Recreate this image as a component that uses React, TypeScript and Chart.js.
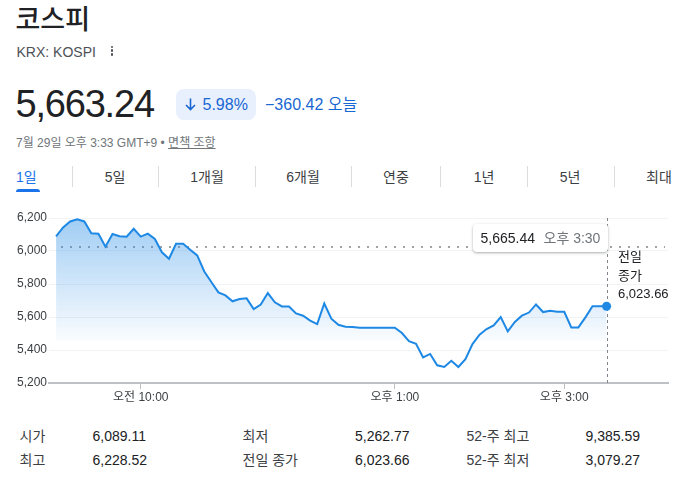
import React, { useEffect, useRef } from "react";
import { Chart, registerables } from "chart.js";

Chart.register(...registerables);

// ---- data ----
const times = [
  "09:00", "09:05", "09:10", "09:15", "09:20", "09:25", "09:30", "09:35", "09:40", "09:45", "09:50", "09:55",
  "10:00", "10:05", "10:10", "10:15", "10:20", "10:25", "10:30", "10:35", "10:40", "10:45", "10:50", "10:55",
  "11:00", "11:05", "11:10", "11:15", "11:20", "11:25", "11:30", "11:35", "11:40", "11:45", "11:50", "11:55",
  "12:00", "12:05", "12:10", "12:15", "12:20", "12:25", "12:30", "12:35", "12:40", "12:45", "12:50", "12:55",
  "13:00", "13:05", "13:10", "13:15", "13:20", "13:25", "13:30", "13:35", "13:40", "13:45", "13:50", "13:55",
  "14:00", "14:05", "14:10", "14:15", "14:20", "14:25", "14:30", "14:35", "14:40", "14:45", "14:50", "14:55",
  "15:00", "15:05", "15:10", "15:15", "15:20", "15:25", "15:30",
];
const values = [
  6088, 6143, 6179, 6192, 6179, 6107, 6105, 6026, 6103, 6089, 6087, 6135,
  6087, 6105, 6073, 5992, 5953, 6044, 6044, 6008, 5973, 5876, 5812, 5749,
  5731, 5695, 5709, 5713, 5648, 5675, 5745, 5689, 5664, 5663, 5622, 5608,
  5578, 5557, 5682, 5590, 5553, 5541, 5539, 5535, 5535, 5535, 5535, 5535,
  5535, 5503, 5454, 5438, 5355, 5376, 5307, 5297, 5335, 5297, 5345, 5436,
  5493, 5527, 5549, 5600, 5513, 5570, 5608, 5627, 5676, 5630, 5638, 5632,
  5632, 5537, 5537, 5598, 5665, 5665, 5665,
];
const prevClose = 6023.66;
const yTicks = [5200, 5400, 5600, 5800, 6000, 6200];
const xTickTimes = ["10:00", "13:00", "15:00"];
const xTickLabels = ["오전 10:00", "오후 1:00", "오후 3:00"];
const tabs = ["1일", "5일", "1개월", "6개월", "연중", "1년", "5년", "최대"];
const statLabelsA = ["시가", "최고"];
const statValuesA = ["6,089.11", "6,228.52"];
const statLabelsB = ["최저", "전일 종가"];
const statValuesB = ["5,262.77", "6,023.66"];
const statLabelsC = ["52-주 최고", "52-주 최저"];
const statValuesC = ["9,385.59", "3,079.27"];
const title = "코스피";
const ticker = "KRX: KOSPI";
const price = "5,663.24";
const changePct = "5.98%";
const changeAbs = "−360.42";
const tooltipValue = "5,665.44";
const tooltipTime = "오후 3:30";
const prevCloseLabel = ["전일", "종가", "6,023.66"];

// ---- layout / style ----
const FONT = '"Liberation Sans", Arial, "Noto Sans CJK KR", sans-serif';
const LINE = "#1e88e5";
const BLUE_TEXT = "#1967d2";
const tabCenters = [27.5, 115, 207, 303, 396, 484, 570, 659];
const tabSeps = [72, 158, 255, 351, 440, 527, 614];
const colX = [[19.5, 92.5], [242.5, 355], [466.5, 585.5]];
const rowY = [436, 460];
const prevLabelY = [256.5, 276, 293.5];

const toMin = (t: string) => {
  const [h, m] = t.split(":").map(Number);
  return (h - 9) * 60 + m;
};

function Txt(props: { x: number; cy: number; size: number; color?: string; h?: number; align?: "left" | "center"; style?: any; children: any }) {
  const h = props.h ?? Math.round(props.size * 1.4);
  const base: any = {
    position: "absolute",
    top: props.cy - h / 2,
    height: h,
    lineHeight: h + "px",
    fontSize: props.size,
    color: props.color ?? "#202124",
    whiteSpace: "nowrap",
    fontFamily: FONT,
  };
  if (props.align === "center") {
    base.left = props.x - 100;
    base.width = 200;
    base.textAlign = "center";
  } else {
    base.left = props.x;
  }
  return <div style={{ ...base, ...(props.style || {}) }}>{props.children}</div>;
}

export default function App() {
  const canvasRef = useRef<HTMLCanvasElement | null>(null);

  useEffect(() => {
    const canvas = canvasRef.current;
    if (!canvas) return;
    const overlay = {
      id: "overlay",
      beforeDatasetsDraw(chart: any) {
        const { ctx, chartArea, scales } = chart;
        const y = scales.y.getPixelForValue(prevClose);
        ctx.save();
        ctx.strokeStyle = "#a0a4a8";
        ctx.lineWidth = 2;
        ctx.setLineDash([2, 7]);
        ctx.beginPath();
        ctx.moveTo(chartArea.left + 12, y);
        ctx.lineTo(chartArea.right - 3, y);
        ctx.stroke();
        const lastX = scales.x.getPixelForValue(toMin(times[times.length - 1]));
        ctx.strokeStyle = "#80868b";
        ctx.lineWidth = 1;
        ctx.setLineDash([3, 3]);
        ctx.beginPath();
        ctx.moveTo(Math.round(lastX) + 0.5, chartArea.top);
        ctx.lineTo(Math.round(lastX) + 0.5, chartArea.bottom);
        ctx.stroke();
        ctx.restore();
      },
    };
    const chart = new Chart(canvas, {
      type: "line",
      data: {
        datasets: [
          {
            data: times.map((t, i) => ({ x: toMin(t), y: values[i] })),
            borderColor: LINE,
            borderWidth: 2,
            tension: 0,
            pointRadius: (c: any) => (c.dataIndex === values.length - 1 ? 4.5 : 0),
            pointHoverRadius: 0,
            pointBackgroundColor: LINE,
            pointBorderWidth: 0,
            fill: "start",
            backgroundColor: (c: any) => {
              const area = c.chart.chartArea;
              if (!area) return "rgba(0,0,0,0)";
              const g = c.chart.ctx.createLinearGradient(0, area.top, 0, area.top + 124);
              g.addColorStop(0, "rgba(30,136,229,0.42)");
              g.addColorStop(0.97, "rgba(30,136,229,0.03)");
              g.addColorStop(1, "rgba(30,136,229,0)");
              return g;
            },
          } as any,
        ],
      },
      options: {
        animation: false,
        responsive: false,
        maintainAspectRatio: false,
        layout: { padding: { top: 18, right: 11, left: 0, bottom: 0 } },
        plugins: { legend: { display: false }, tooltip: { enabled: false } },
        events: [],
        scales: {
          x: {
            type: "linear",
            min: -5,
            max: 433.5,
            afterBuildTicks: (s: any) => {
              s.ticks = xTickTimes.map((t) => ({ value: toMin(t) }));
            },
            afterFit: (s: any) => {
              s.height = 32;
            },
            ticks: {
              autoSkip: false,
              maxRotation: 0,
              padding: 1,
              color: "#3c4043",
              font: { size: 12, family: FONT },
              callback: (v: any) => {
                const idx = xTickTimes.findIndex((t) => toMin(t) === v);
                return idx >= 0 ? xTickLabels[idx] : "";
              },
            },
            grid: { drawOnChartArea: false, drawTicks: true, tickLength: 6, color: "#bdc1c6", lineWidth: 1 },
            border: { display: true, color: "#bdc1c6", width: 2 },
          },
          y: {
            min: 5200,
            max: 6200,
            afterBuildTicks: (s: any) => {
              s.ticks = yTicks.map((v) => ({ value: v }));
            },
            afterFit: (s: any) => {
              s.width = 49;
            },
            ticks: {
              padding: 2,
              color: "#3c4043",
              font: { size: 12, family: FONT },
              callback: (v: any) => Number(v).toLocaleString("en-US"),
            },
            grid: { color: "#f1f3f4", drawTicks: false, lineWidth: 1 },
            border: { display: false },
          },
        },
      } as any,
      plugins: [overlay],
    });
    return () => chart.destroy();
  }, []);

  return (
    <div style={{ position: "absolute", left: 0, top: 0, width: 679, height: 499, overflow: "hidden", background: "#fff", fontFamily: FONT }}>
      <Txt x={15.5} cy={20} size={27} h={34} style={{ fontWeight: 500 }}>{title}</Txt>
      <Txt x={16.5} cy={52} size={14} color="#4d5156">{ticker}</Txt>
      <div style={{ position: "absolute", left: 110.5, top: 45.5, width: 3, height: 10, display: "flex", flexDirection: "column", justifyContent: "space-between" }}>
        {[0, 1, 2].map((k) => (
          <div key={k} style={{ width: 2.6, height: 2.6, borderRadius: 2, background: "#4d5156" }} />
        ))}
      </div>
      <Txt x={15.5} cy={104} size={38} h={44} style={{ letterSpacing: "-1.2px" }}>{price}</Txt>
      <div style={{ position: "absolute", left: 176, top: 89, width: 80, height: 31, background: "#e8f0fe", borderRadius: 8 }} />
      <svg style={{ position: "absolute", left: 185, top: 98 }} width={11} height={13} viewBox="0 0 11 13">
        <path d="M5.5 0.5 V11.5 M1 7 L5.5 11.5 L10 7" stroke={BLUE_TEXT} strokeWidth={1.6} fill="none" />
      </svg>
      <Txt x={202.5} cy={104.5} size={16} color={BLUE_TEXT}>{changePct}</Txt>
      <Txt x={265} cy={104.5} size={16} color={BLUE_TEXT}>{changeAbs} 오늘</Txt>
      <Txt x={16} cy={143} size={12} color="#70757a">
        7월 29일 오후 3:33 GMT+9 • <span style={{ textDecoration: "underline" }}>면책 조항</span>
      </Txt>

      {tabs.map((t, i) =>
        i === 0 ? (
          <Txt key={t} x={16} cy={177} size={14} color="#1a73e8">{t}</Txt>
        ) : (
          <Txt key={t} x={tabCenters[i]} cy={177} size={14} color="#3c4043" align="center">{t}</Txt>
        )
      )}
      {tabSeps.map((x) => (
        <div key={x} style={{ position: "absolute", left: x, top: 166, width: 1, height: 21, background: "#dadce0" }} />
      ))}
      <div style={{ position: "absolute", left: 16, top: 188.5, width: 24, height: 3, background: "#1a73e8", borderRadius: "3px 3px 0 0" }} />

      <canvas ref={canvasRef} width={679} height={215} style={{ position: "absolute", left: 0, top: 200, width: 679, height: 215, display: "block" }} />

      <div style={{ position: "absolute", left: 473, top: 224, width: 135, height: 28, background: "#fff", borderRadius: 4, boxShadow: "0 1px 3px rgba(60,64,67,0.3), 0 1px 2px rgba(60,64,67,0.15)" }} />
      <Txt x={480.5} cy={238} size={14} color="#202124">{tooltipValue}</Txt>
      <Txt x={543.5} cy={238} size={14} color="#70757a">{tooltipTime}</Txt>
      {prevCloseLabel.map((s, i) => (
        <Txt key={s} x={618} cy={prevLabelY[i]} size={13} color="#202124">{s}</Txt>
      ))}

      {[statLabelsA, statLabelsB, statLabelsC].map((labels, c) =>
        labels.map((l, r) => (
          <Txt key={"l" + c + r} x={colX[c][0]} cy={rowY[r]} size={14} color="#3c4043">{l}</Txt>
        ))
      )}
      {[statValuesA, statValuesB, statValuesC].map((vals, c) =>
        vals.map((v, r) => (
          <Txt key={"v" + c + r} x={colX[c][1]} cy={rowY[r]} size={14} color="#202124">{v}</Txt>
        ))
      )}
    </div>
  );
}
